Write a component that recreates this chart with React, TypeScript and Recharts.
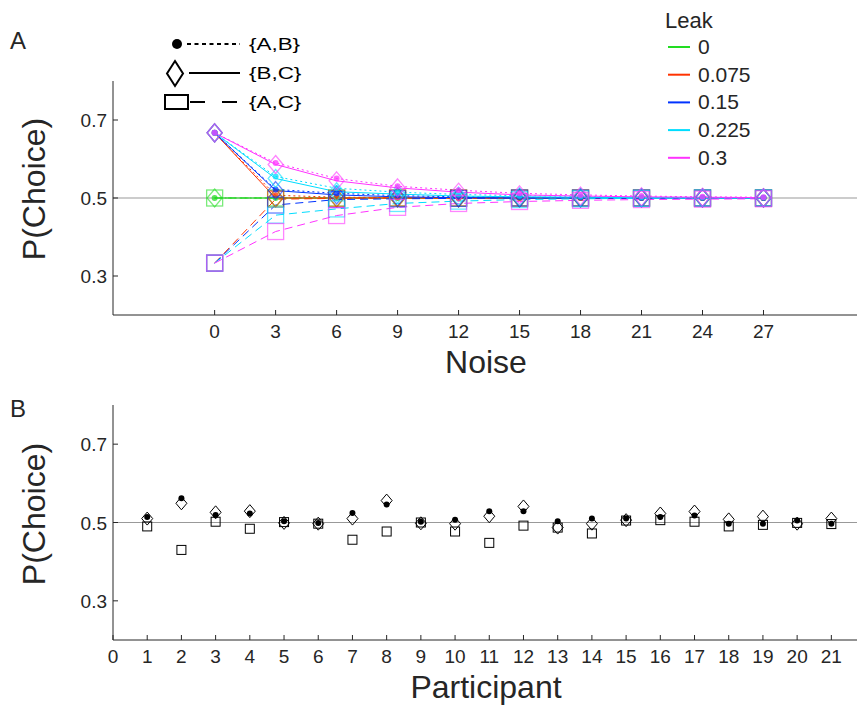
import React from "react";
import { ComposedChart, Line, XAxis, YAxis, ReferenceLine } from "recharts";

// ---- Panel A: model predictions by noise, one series per leak level ----
const noiseLevels = [0, 3, 6, 9, 12, 15, 18, 21, 24, 27];
const leakLabels = ["0", "0.075", "0.15", "0.225", "0.3"];
const leakColors = ["#22dd22", "#ff3300", "#0033ff", "#00ddff", "#ff33ff"];

// {A,B}
const ab0 = [0.5, 0.5, 0.5, 0.5, 0.5, 0.5, 0.5, 0.5, 0.5, 0.5];
const ab075 = [0.667, 0.507, 0.502, 0.501, 0.5, 0.5, 0.5, 0.5, 0.5, 0.5];
const ab15 = [0.667, 0.522, 0.512, 0.506, 0.503, 0.502, 0.501, 0.5, 0.5, 0.5];
const ab225 = [0.667, 0.555, 0.525, 0.515, 0.509, 0.506, 0.504, 0.502, 0.501, 0.501];
const ab3 = [0.667, 0.59, 0.55, 0.53, 0.52, 0.512, 0.508, 0.505, 0.503, 0.502];
// {B,C}
const bc0 = [0.5, 0.5, 0.5, 0.5, 0.5, 0.5, 0.5, 0.5, 0.5, 0.5];
const bc075 = [0.667, 0.5, 0.5, 0.5, 0.5, 0.5, 0.5, 0.5, 0.5, 0.5];
const bc15 = [0.667, 0.519, 0.508, 0.503, 0.501, 0.5, 0.5, 0.5, 0.5, 0.5];
const bc225 = [0.667, 0.55, 0.516, 0.51, 0.505, 0.503, 0.502, 0.501, 0.5, 0.5];
const bc3 = [0.667, 0.586, 0.544, 0.526, 0.515, 0.508, 0.505, 0.503, 0.502, 0.501];
// {A,C}
const ac0 = [0.5, 0.5, 0.5, 0.5, 0.5, 0.5, 0.5, 0.5, 0.5, 0.5];
const ac075 = [0.333, 0.497, 0.499, 0.5, 0.5, 0.5, 0.5, 0.5, 0.5, 0.5];
const ac15 = [0.333, 0.482, 0.496, 0.498, 0.499, 0.5, 0.5, 0.5, 0.5, 0.5];
const ac225 = [0.333, 0.456, 0.472, 0.486, 0.492, 0.496, 0.498, 0.499, 0.5, 0.5];
const ac3 = [0.333, 0.414, 0.455, 0.476, 0.486, 0.491, 0.494, 0.496, 0.497, 0.498];

const abSeries = [ab0, ab075, ab15, ab225, ab3];
const bcSeries = [bc0, bc075, bc15, bc225, bc3];
const acSeries = [ac0, ac075, ac15, ac225, ac3];

// ---- Panel B: per-participant choice probabilities ----
const participants = [1, 2, 3, 4, 5, 6, 7, 8, 9, 10, 11, 12, 13, 14, 15, 16, 17, 18, 19, 20, 21];
const abPart = [0.514, 0.562, 0.519, 0.523, 0.503, 0.499, 0.524, 0.546, 0.502, 0.507, 0.529, 0.529, 0.503, 0.51, 0.51, 0.514, 0.518, 0.497, 0.497, 0.505, 0.497];
const bcPart = [0.51, 0.549, 0.526, 0.529, 0.499, 0.497, 0.51, 0.556, 0.498, 0.497, 0.516, 0.541, 0.487, 0.497, 0.506, 0.523, 0.528, 0.508, 0.515, 0.497, 0.51];
const acPart = [0.49, 0.43, 0.502, 0.484, 0.501, 0.497, 0.456, 0.477, 0.5, 0.477, 0.448, 0.492, 0.487, 0.472, 0.505, 0.506, 0.502, 0.49, 0.494, 0.499, 0.496];

const noiseTicks = [0, 3, 6, 9, 12, 15, 18, 21, 24, 27];
const participantTicks = [0, 1, 2, 3, 4, 5, 6, 7, 8, 9, 10, 11, 12, 13, 14, 15, 16, 17, 18, 19, 20, 21];
const yTicks = [0.3, 0.5, 0.7];

const dataA = noiseLevels.map((n, i) => {
  const row: Record<string, number> = { noise: n };
  leakLabels.forEach((_, k) => {
    row[`ab${k}`] = abSeries[k][i];
    row[`bc${k}`] = bcSeries[k][i];
    row[`ac${k}`] = acSeries[k][i];
  });
  return row;
});

const dataB = participants.map((p, i) => ({ p, ab: abPart[i], bc: bcPart[i], ac: acPart[i] }));

const FONT = "'Liberation Sans', Arial, Helvetica, sans-serif";
const INK = "#262626";

const YTick = (props: any) => {
  const { x, y, payload } = props;
  return (
    <g>
      <line x1={x} x2={x + 5} y1={y} y2={y} stroke={INK} />
      <text x={x - 6} y={y} dy={7} textAnchor="end" fontSize={19} fontFamily={FONT} fill={INK}>
        {Number(payload.value).toFixed(1)}
      </text>
    </g>
  );
};

const XTick = (props: any) => {
  const { x, y, payload } = props;
  return (
    <g>
      <line x1={x} x2={x} y1={y} y2={y - 5} stroke={INK} />
      <text x={x} y={y} dy={23} textAnchor="middle" fontSize={19} fontFamily={FONT} fill={INK}>
        {payload.value}
      </text>
    </g>
  );
};

const dotA = (kind: string, color: string) => (p: any) => {
  const { cx, cy, index } = p;
  if (cx == null || cy == null) return <g key={index} />;
  if (kind === "ab")
    return <circle key={index} cx={cx} cy={cy} r={3} fill={color} fillOpacity={0.75} stroke="none" />;
  if (kind === "bc")
    return (
      <path
        key={index}
        d={`M${cx},${cy - 9}L${cx + 7.5},${cy}L${cx},${cy + 9}L${cx - 7.5},${cy}Z`}
        fill="none"
        stroke={color}
        strokeOpacity={0.6}
        strokeWidth={1.3}
      />
    );
  return (
    <rect key={index} x={cx - 8} y={cy - 8} width={16} height={16} fill="none" stroke={color} strokeOpacity={0.6} strokeWidth={1.3} />
  );
};

const dotB = (kind: string) => (p: any) => {
  const { cx, cy, index } = p;
  if (cx == null || cy == null) return <g key={index} />;
  if (kind === "ab") return <circle key={index} cx={cx} cy={cy} r={3} fill="#000" />;
  if (kind === "bc")
    return (
      <path key={index} d={`M${cx},${cy - 6.5}L${cx + 5.5},${cy}L${cx},${cy + 6.5}L${cx - 5.5},${cy}Z`} fill="none" stroke="#000" strokeWidth={1} />
    );
  return <rect key={index} x={cx - 4.5} y={cy - 4.5} width={9} height={9} fill="none" stroke="#000" strokeWidth={1} />;
};

const dash = { ab: "2 3", bc: undefined, ac: "8 5" } as Record<string, string | undefined>;

export default function App() {
  return (
    <div style={{ position: "absolute", left: 0, top: 0, width: 859, height: 709, background: "#fff", fontFamily: FONT }}>
      <div style={{ position: "absolute", left: 0, top: 0 }}>
        <ComposedChart width={859} height={350} data={dataA} margin={{ top: 81, right: 2, bottom: 5, left: 53 }}>
          <XAxis
            dataKey="noise"
            type="number"
            domain={[-5, 31.6]}
            allowDataOverflow
            ticks={noiseTicks}
            interval={0}
            tick={<XTick />}
            tickLine={false}
            tickSize={0}
            tickMargin={0}
            height={30}
            axisLine={{ stroke: INK }}
          />
          <YAxis
            type="number"
            domain={[0.2, 0.8]}
            allowDataOverflow
            ticks={yTicks}
            interval={0}
            tick={<YTick />}
            tickLine={false}
            tickSize={0}
            tickMargin={0}
            width={60}
            axisLine={{ stroke: INK }}
          />
          <ReferenceLine y={0.5} stroke="#999" strokeWidth={1.2} />
          {leakLabels.map((_, k) =>
            ["ab", "bc", "ac"].map((kind) => (
              <Line
                key={`${kind}${k}`}
                dataKey={`${kind}${k}`}
                type="linear"
                stroke={leakColors[k]}
                strokeWidth={1}
                strokeDasharray={dash[kind]}
                dot={dotA(kind, leakColors[k])}
                activeDot={false}
                isAnimationActive={false}
              />
            ))
          )}
        </ComposedChart>
      </div>
      <div style={{ position: "absolute", left: 0, top: 360 }}>
        <ComposedChart width={859} height={349} data={dataB} margin={{ top: 45, right: 2, bottom: 39, left: 53 }}>
          <XAxis
            dataKey="p"
            type="number"
            domain={[0, 21.75]}
            allowDataOverflow
            ticks={participantTicks}
            interval={0}
            tick={<XTick />}
            tickLine={false}
            tickSize={0}
            tickMargin={0}
            height={30}
            axisLine={{ stroke: INK }}
          />
          <YAxis
            type="number"
            domain={[0.2, 0.8]}
            allowDataOverflow
            ticks={yTicks}
            interval={0}
            tick={<YTick />}
            tickLine={false}
            tickSize={0}
            tickMargin={0}
            width={60}
            axisLine={{ stroke: INK }}
          />
          <ReferenceLine y={0.5} stroke="#999" strokeWidth={1.2} />
          {["ac", "bc", "ab"].map((kind) => (
            <Line
              key={kind}
              dataKey={kind}
              stroke="none"
              dot={dotB(kind)}
              activeDot={false}
              isAnimationActive={false}
            />
          ))}
        </ComposedChart>
      </div>
      <svg width={859} height={709} style={{ position: "absolute", left: 0, top: 0, pointerEvents: "none" }}>
        <g fontFamily={FONT} fill={INK}>
          <text x={10} y={49} fontSize={24}>A</text>
          <text x={10} y={417} fontSize={24}>B</text>
          <text transform="translate(45,189) rotate(-90)" textAnchor="middle" fontSize={32}>P(Choice)</text>
          <text transform="translate(45,514) rotate(-90)" textAnchor="middle" fontSize={32}>P(Choice)</text>
          <text x={486} y={373} textAnchor="middle" fontSize={32}>Noise</text>
          <text x={486} y={698} textAnchor="middle" fontSize={32}>Participant</text>
        </g>
        {/* pair legend */}
        <g fontFamily={FONT} fontSize={16} fill="#000">
          <circle cx={177} cy={44} r={5} fill="#000" />
          <line x1={187} x2={240} y1={44} y2={44} stroke="#000" strokeWidth={2} strokeDasharray="4 3.5" />
          <text transform="translate(249,50) scale(1.4,1)">{"{A,B}"}</text>
          <path d="M175,61L183,73.5L175,86L167,73.5Z" fill="none" stroke="#000" strokeWidth={2} />
          <line x1={189} x2={240} y1={73} y2={73} stroke="#000" strokeWidth={2} />
          <text transform="translate(249,79) scale(1.4,1)">{"{B,C}"}</text>
          <rect x={165} y={95} width={23} height={14} fill="none" stroke="#000" strokeWidth={2} />
          <line x1={190} x2={240} y1={102} y2={102} stroke="#000" strokeWidth={2} strokeDasharray="15 17" />
          <text transform="translate(249,108) scale(1.4,1)">{"{A,C}"}</text>
        </g>
        {/* leak legend */}
        <g fontFamily={FONT} fill={INK}>
          <text x={665} y={28} fontSize={22}>Leak</text>
          {leakLabels.map((l, k) => (
            <g key={l}>
              <line x1={668} x2={690} y1={47 + k * 27.7} y2={47 + k * 27.7} stroke={leakColors[k]} strokeWidth={2} />
              <text x={698} y={54 + k * 27.7} fontSize={21}>{l}</text>
            </g>
          ))}
        </g>
      </svg>
    </div>
  );
}
